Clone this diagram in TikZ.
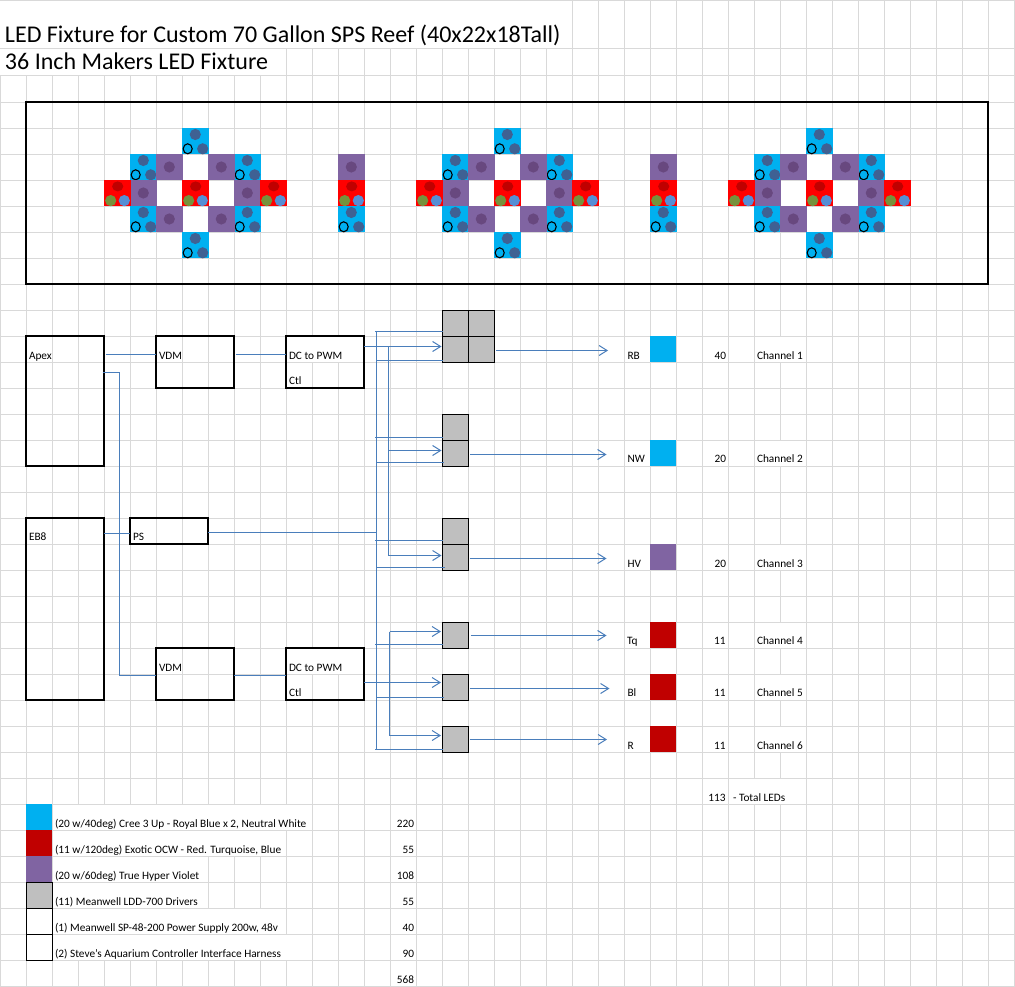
\documentclass[tikz,border=0pt]{standalone}
\usepackage{fontspec}
\setmainfont{Carlito}
\usetikzlibrary{arrows.meta}
\definecolor{gridc}{HTML}{D9D9D9}
\definecolor{wirec}{HTML}{4A7EBB}
\definecolor{ledblue}{HTML}{00B0F0}
\definecolor{ledred}{HTML}{FF0000}
\definecolor{ledviolet}{HTML}{8064A2}
\definecolor{darkred}{HTML}{C00000}
\definecolor{drvgray}{HTML}{BFBFBF}
\definecolor{dotblue}{HTML}{3F6193}
\definecolor{dotviolet}{HTML}{68487F}
\definecolor{dotgreen}{HTML}{76923C}
\definecolor{dotsky}{HTML}{558ED5}
\tikzset{
  gridline/.style={draw=gridc,line width=1pt},
  mask/.style={fill=white,draw=none},
  wire/.style={draw=wirec,line width=1pt},
  arr/.style={wire,-{Straight Barb[length=8pt,width=10pt]}},
  bigbox/.style={draw=black,line width=1.8pt,fill=none,rectangle,inner sep=0pt,outer sep=0pt,anchor=north west},
  cell/.style={rectangle,inner sep=0pt,outer sep=0pt,anchor=north west,minimum width=26pt,minimum height=26pt},
  driver/.style={cell,fill=drvgray,draw=black,line width=0.9pt},
  txt/.style={anchor=base west,inner sep=0pt,outer sep=0pt,font=\fontsize{11.3}{12}\selectfont},
  num/.style={anchor=base east,inner sep=0pt,outer sep=0pt,font=\fontsize{11.3}{12}\selectfont},
  ttl/.style={anchor=base west,inner sep=0pt,outer sep=0pt,font=\fontsize{24}{26}\selectfont},
  ring/.style={draw=black,line width=1.1pt,fill=none},
}
% x, y of the tile's top-left grid corner
\newcommand{\tileblue}[2]{%
  \fill[ledblue] (#1+0.3,#2+0.3) rectangle (#1+26.7,#2+26.4);
  \fill[dotblue] (#1+13.3,#2+6.5) circle[radius=5.6pt];
  \fill[dotblue] (#1+20.7,#2+20.8) circle[radius=5.6pt];
  \draw[ring] (#1+5.7,#2+20.8) circle[x radius=4.5pt,y radius=5pt];
}
\newcommand{\tileviolet}[2]{%
  \fill[ledviolet] (#1+0.3,#2+0.3) rectangle (#1+26.7,#2+26.4);
  \fill[dotviolet] (#1+13.3,#2+13) circle[radius=5.6pt];
}
\newcommand{\tilered}[2]{%
  \fill[ledred] (#1+0.3,#2+0.3) rectangle (#1+26.7,#2+26.4);
  \fill[darkred] (#1+13.7,#2+6.4) circle[x radius=5.6pt,y radius=5pt];
  \fill[dotgreen] (#1+6.7,#2+20.6) circle[radius=5.6pt];
  \fill[dotsky] (#1+20.3,#2+20.6) circle[radius=5.6pt];
}
\begin{document}
\begin{tikzpicture}[x=1pt,y=-1pt]
\useasboundingbox (0,0) rectangle (1015,987);
\fill[white] (0,0) rectangle (1015,987);
% ---- spreadsheet grid ----
\foreach \k in {0,...,39} \draw[gridline] ({26*\k+0.5},0) -- ({26*\k+0.5},987);
\draw[gridline] (0,0.5) -- (1015,0.5);
\draw[gridline] (0,48.5) -- (1015,48.5);
\draw[gridline] (0,75.5) -- (1015,75.5);
\foreach \k in {0,...,34} \draw[gridline] (0,{26*\k+102.5}) -- (1015,{26*\k+102.5});
% text overflowing its cell hides the vertical grid lines
\fill[mask] (0,1) rectangle (572,48);
\fill[mask] (0,49) rectangle (286,75);
\fill[mask] (311,337) rectangle (340,362);
\fill[mask] (311,649) rectangle (340,674);
\foreach \y in {336,440,544,622,674,726} \fill[mask] (779,\y+1) rectangle (782,\y+26);
\fill[mask] (753,779) rectangle (782,804);
\fill[mask] (77,805) rectangle (288,830);
\fill[mask] (77,831) rectangle (262,856);
\fill[mask] (77,857) rectangle (184,882);
\fill[mask] (77,883) rectangle (184,908);
\fill[mask] (77,909) rectangle (262,934);
\fill[mask] (77,935) rectangle (288,960);
% ---- title ----
\node[ttl] (title1) at (5,42.2) {LED Fixture for Custom 70 Gallon SPS Reef (40x22x18Tall)};
\node[ttl] (title2) at (5,69.2) {36 Inch Makers LED Fixture};
% ---- LED tiles ----
\foreach \g in {0,312,624} {
  \tileblue{182+\g}{128}
  \tileblue{130+\g}{154}
  \tileblue{234+\g}{154}
  \tileblue{130+\g}{206}
  \tileblue{234+\g}{206}
  \tileblue{182+\g}{232}
  \tileviolet{156+\g}{154}
  \tileviolet{208+\g}{154}
  \tileviolet{130+\g}{180}
  \tileviolet{234+\g}{180}
  \tileviolet{156+\g}{206}
  \tileviolet{208+\g}{206}
  \tilered{104+\g}{180}
  \tilered{182+\g}{180}
  \tilered{260+\g}{180}
}
\foreach \g in {0,312} {
  \tileviolet{338+\g}{154}
  \tilered{338+\g}{180}
  \tileblue{338+\g}{206}
}
\node[bigbox,minimum width=962pt,minimum height=182pt] (fixture) at (26.2,102) {};
% ---- controller boxes ----
\node[bigbox,minimum width=78pt,minimum height=130pt] (apex) at (26.3,335.9) {};
\node[bigbox,minimum width=78pt,minimum height=52pt] (vdma) at (156.3,335.9) {};
\node[bigbox,minimum width=78pt,minimum height=52pt] (dca) at (286.3,335.9) {};
\node[bigbox,minimum width=78pt,minimum height=182pt] (eb) at (26.3,517.9) {};
\node[bigbox,minimum width=78pt,minimum height=26pt] (ps) at (130.3,517.9) {};
\node[bigbox,minimum width=78pt,minimum height=52pt] (vdmb) at (156.3,647.9) {};
\node[bigbox,minimum width=78pt,minimum height=52pt] (dcb) at (286.3,647.9) {};
\node[txt] (tapex) at (29,359) {Apex};
\node[txt] (tvdma) at (159,359) {VDM};
\node[txt] (tdca) at (289,359) {DC to PWM};
\node[txt] (tctla) at (289,384) {Ctl};
\node[txt] (teb) at (29,540.5) {EB8};
\node[txt] (tps) at (133,540.5) {PS};
\node[txt] (tvdmb) at (159,671) {VDM};
\node[txt] (tdcb) at (289,671) {DC to PWM};
\node[txt] (tctlb) at (289,696) {Ctl};
% ---- drivers ----
\node[driver] (d1tl) at (442.5,310.5) {};
\node[driver] (d1tr) at (468.5,310.5) {};
\node[driver] (d1bl) at (442.5,336.5) {};
\node[driver] (d1br) at (468.5,336.5) {};
\node[driver] (d2t) at (442.5,414.5) {};
\node[driver] (d2b) at (442.5,440.5) {};
\node[driver] (d3t) at (442.5,518.5) {};
\node[driver] (d3b) at (442.5,544.5) {};
\node[driver] (d4) at (442.5,622.5) {};
\node[driver] (d5) at (442.5,674.5) {};
\node[driver] (d6) at (442.5,726.5) {};
% ---- channel swatches ----
\node[cell,fill=ledblue] (s1) at (650.3,336.3) {};
\node[cell,fill=ledblue] (s2) at (650.3,440.3) {};
\node[cell,fill=ledviolet] (s3) at (650.3,544.3) {};
\node[cell,fill=darkred] (s4) at (650.3,622.3) {};
\node[cell,fill=darkred] (s5) at (650.3,674.3) {};
\node[cell,fill=darkred] (s6) at (650.3,726.3) {};
% ---- connector levels and free ends ----
\coordinate (busT) at (376.5,331.5);
\coordinate (busB) at (376.5,750);
\coordinate (busii) at (388.5,347);
\coordinate (busiiB) at (388.5,555.5);
\coordinate (busiii) at (389.5,631.5);
\coordinate (busiiiB) at (389.5,735.5);
\coordinate (tap1a) at (375,331.5);
\coordinate (tap1b) at (376.5,360.5);
\coordinate (tap2a) at (375,437.5);
\coordinate (tap2b) at (376.5,462.5);
\coordinate (tap3a) at (375,540.5);
\coordinate (tap3b) at (376.5,567.5);
\coordinate (tap4) at (375,644.5);
\coordinate (tap5) at (376.5,697.5);
\coordinate (tap6) at (375,749.5);
\coordinate (lvla) at (0,354.5);
\coordinate (lvlb) at (102.5,372.5);
\coordinate (turnb) at (119.5,372.5);
\coordinate (turnc) at (119.5,675.5);
\coordinate (lvlc) at (0,533.5);
\coordinate (lvld) at (0,532.5);
\coordinate (lvle) at (0,346.5);
\coordinate (lvlf) at (0,682.5);
\coordinate (lvlg) at (0,450.5);
\coordinate (out1) at (608,350.5);
\coordinate (out2) at (606.5,454.5);
\coordinate (out3) at (606.5,558.5);
\coordinate (out4) at (606.5,635.5);
\coordinate (out5) at (609.5,688.5);
\coordinate (out6) at (607,739.5);
% ---- connectors ----
\draw[wire,shorten <=1.5pt] (apex.east |- lvla) -- (vdma.west |- lvla);
\draw[wire,shorten <=1.5pt] (vdma.east |- lvla) -- (dca.west |- lvla);
\draw[wire] (lvlb) -- (turnb) -- (turnc) -- (vdmb.west |- turnc);
\draw[wire] (vdmb.east |- turnc) -- (dcb.west |- turnc);
\draw[wire] (eb.east |- lvlc) -- (ps.west |- lvlc);
\draw[wire] (ps.east |- lvld) -- (busT |- lvld);
\draw[wire] (busT) -- (busB);
\draw[wire] (busii) -- (busiiB);
\draw[wire] (busiii) -- (busiiiB);
\draw[wire] (tap1a) -- (d1tl.west |- tap1a);
\draw[wire] (tap1b) -- (d1bl.west |- tap1b);
\draw[wire] (tap2a) -- (d2t.west |- tap2a);
\draw[wire] (tap2b) -- ([xshift=1.5pt]d2b.west |- tap2b);
\draw[wire] (tap3a) -- (d3t.west |- tap3a);
\draw[wire] (tap3b) -- ([xshift=2.5pt]d3b.west |- tap3b);
\draw[wire] (tap4) -- (d4.west |- tap4);
\draw[wire] (tap5) -- ([xshift=1.5pt]d5.west |- tap5);
\draw[wire] (tap6) -- (d6.west |- tap6);
\draw[arr,shorten >=1pt] (dca.east |- lvle) -- (d1bl.west |- lvle);
\draw[arr,shorten >=1pt] (busii |- lvlg) -- (d2b.west |- lvlg);
\draw[arr,shorten >=1pt] (busiiB) -- (d3b.west |- busiiB);
\draw[arr,shorten >=1.5pt] (busiii) -- (d4.west |- busiii);
\draw[arr,shorten >=1.5pt] (dcb.east |- lvlf) -- (d5.west |- lvlf);
\draw[arr,shorten >=1.5pt] (busiiiB) -- (d6.west |- busiiiB);
\draw[arr,shorten <=1.5pt] (d1br.east |- out1) -- (out1);
\draw[arr,shorten <=1.5pt] (d2b.east |- out2) -- (out2);
\draw[arr,shorten <=1pt] (d3b.east |- out3) -- (out3);
\draw[arr,shorten <=2pt] (d4.east |- out4) -- (out4);
\draw[arr,shorten <=1pt] (d5.east |- out5) -- (out5);
\draw[arr,shorten <=1pt] (d6.east |- out6) -- (out6);
% ---- channel table ----
\node[txt] (lrb) at (627.5,359.3) {RB};
\node[txt] (lnw) at (627.5,462.5) {NW};
\node[txt] (lhv) at (627.5,567.5) {HV};
\node[txt] (ltq) at (627,644.5) {Tq};
\node[txt] (lbl) at (627.5,696.5) {Bl};
\node[txt] (lr) at (627.5,749.5) {R};
\node[num] (n1) at (726,359.3) {40};
\node[num] (n2) at (726,462.5) {20};
\node[num] (n3) at (726,567.5) {20};
\node[num] (n4) at (725.5,644.5) {11};
\node[num] (n5) at (725.5,696.5) {11};
\node[num] (n6) at (725.5,749.5) {11};
\node[txt] (c1) at (757,359.3) {Channel 1};
\node[txt] (c2) at (757,462.5) {Channel 2};
\node[txt] (c3) at (757,567.5) {Channel 3};
\node[txt] (c4) at (757,644.5) {Channel 4};
\node[txt] (c5) at (757,696.5) {Channel 5};
\node[txt] (c6) at (757,749.5) {Channel 6};
\node[num] (ntot) at (725.5,801.5) {113};
\node[txt] (ltot) at (733,801.5) {- Total LEDs};
% ---- legend ----
\node[cell,fill=ledblue] (k1) at (26.3,804.3) {};
\node[cell,fill=darkred] (k2) at (26.3,830.3) {};
\node[cell,fill=ledviolet] (k3) at (26.3,856.3) {};
\node[driver] (k4) at (26.5,882.5) {};
\node[cell,draw=black,line width=0.9pt] (k5) at (26.5,908.5) {};
\node[cell,draw=black,line width=0.9pt] (k6) at (26.5,934.5) {};
\node[txt] (e1) at (55,827) {(20 w/40deg) Cree 3 Up - Royal Blue x 2, Neutral White};
\node[txt] (e2) at (55,853) {(11 w/120deg) Exotic OCW - Red. Turquoise, Blue};
\node[txt] (e3) at (55,879) {(20 w/60deg) True Hyper Violet};
\node[txt] (e4) at (55,905) {(11) Meanwell LDD-700 Drivers};
\node[txt] (e5) at (55,931) {(1) Meanwell SP-48-200 Power Supply 200w, 48v};
\node[txt] (e6) at (55,957) {(2) Steve's Aquarium Controller Interface Harness};
\node[num] (p1) at (414,827) {220};
\node[num] (p2) at (414,853) {55};
\node[num] (p3) at (414,879) {108};
\node[num] (p4) at (414,905) {55};
\node[num] (p5) at (414,931) {40};
\node[num] (p6) at (414,957) {90};
\node[num] (ptot) at (414,983) {568};
\end{tikzpicture}
\end{document}
